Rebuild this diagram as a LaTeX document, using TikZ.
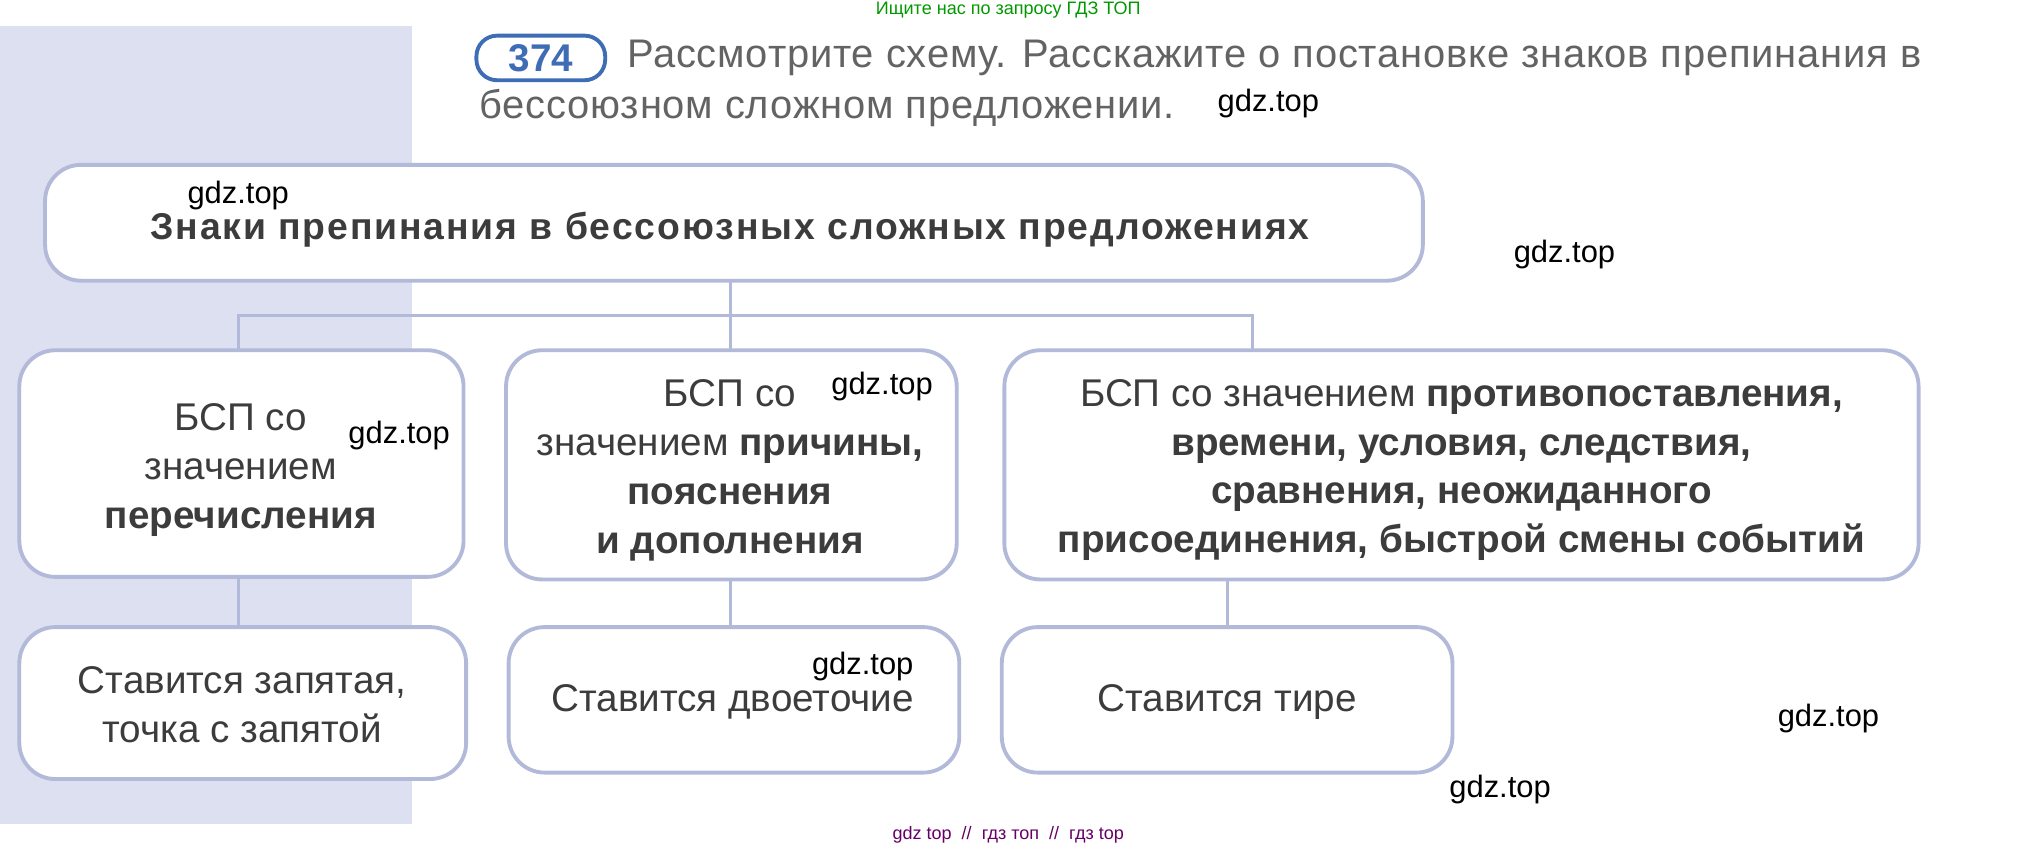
\documentclass[tikz,border=0pt]{standalone}
\usepackage{fontspec}
\setmainfont{Liberation Sans}
\usetikzlibrary{positioning}
\definecolor{panel}{HTML}{DDE0F1}
\definecolor{frame}{HTML}{B3BAD9}
\definecolor{ink}{HTML}{3C3C3C}
\definecolor{badge}{HTML}{3E6DB5}
\tikzset{
  box/.style={draw=frame, line width=1.5pt, rounded corners=14pt, fill=white},
  txt/.style={text=ink, font=\fontsize{15}{19}\selectfont, align=center},
  wm/.style={font=\fontsize{12}{14}\selectfont, text=black},
  link/.style={draw=frame, line width=1.2pt}
}
\begin{document}
\begin{tikzpicture}[x=0.5pt,y=-0.5pt]
    \useasboundingbox[fill=white] (0,0) rectangle (1568,660);
    \fill[panel] (0,20) rectangle (320,640);
    \node[font=\fontsize{7}{8}\selectfont, text=green!60!black] (top) at (783,8) {Ищите нас по запросу ГДЗ ТОП};

    % task header
    \node[draw=badge, line width=1.5pt, rounded corners=8pt, minimum width=50pt, minimum height=17pt,
          text=badge, font=\fontsize{15}{17}\bfseries] (num) at (420,45) {374};
    \node[txt, anchor=west, text=ink!80, font=\fontsize{15.5}{19}\selectfont\addfontfeatures{LetterSpace=2}] (line1) at (480,45) {Рассмотрите схему. Расскажите о постановке знаков препинания в};
    \node[txt, anchor=west, text=ink!80, font=\fontsize{15.5}{19}\selectfont\addfontfeatures{LetterSpace=2}] (line2) at (365,84) {бессоюзном сложном предложении.};

    % boxes
    \draw[box] (35,128) rectangle (1105,218);
    \node[txt, font=\fontsize{14.5}{18}\bfseries\selectfont\addfontfeatures{LetterSpace=5}] (main) at (567,178) {Знаки препинания в бессоюзных сложных предложениях};
    \draw[box] (15,272) rectangle (360,448);
    \draw[box] (393,272) rectangle (743,450);
    \draw[box] (780,272) rectangle (1490,450);
    \draw[box] (15,487) rectangle (362,605);
    \draw[box] (395,487) rectangle (745,600);
    \draw[box] (778,487) rectangle (1128,600);

    % connectors
    \coordinate (hub) at (567,245);
    \draw[link] (567,218) -- (hub);
    \draw[link] (185,272) -- (185,245) -- (973,245) -- (973,272);
    \draw[link] (567,245) -- (567,272);
    \draw[link] (185,448) -- (185,487);
    \draw[link] (567,450) -- (567,487);
    \draw[link] (953,450) -- (953,487);

    % texts
    \node[txt] (enum) at (187,365) {БСП со\\значением\\\textbf{перечисления}};
    \node[txt] (cause) at (567,365) {БСП со\\значением \textbf{причины,}\\\textbf{пояснения}\\\textbf{и дополнения}};
    \node[txt] (contr) at (1135,365) {БСП со значением \textbf{противопоставления,}\\\textbf{времени, условия, следствия,}\\\textbf{сравнения, неожиданного}\\\textbf{присоединения, быстрой смены событий}};
    \node[txt] (comma) at (188,547) {Ставится запятая,\\точка с запятой};
    \node[txt] (colon) at (569,545) {Ставится двоеточие};
    \node[txt] (dash) at (953,545) {Ставится тире};

    % watermarks
    \node[wm] (w1) at (985,80) {gdz.top};
    \node[wm] (w2) at (185,152) {gdz.top};
    \node[wm] (w3) at (1215,198) {gdz.top};
    \node[wm] (w4) at (310,338) {gdz.top};
    \node[wm] (w5) at (685,300) {gdz.top};
    \node[wm] (w6) at (670,518) {gdz.top};
    \node[wm] (w7) at (1420,558) {gdz.top};
    \node[wm] (w8) at (1165,613) {gdz.top};
    \node[font=\fontsize{7}{8}\selectfont, text=violet!80!black] (bottom) at (783,648) {gdz top \ // \ гдз топ \ // \ гдз top};
\end{tikzpicture}
\end{document}
